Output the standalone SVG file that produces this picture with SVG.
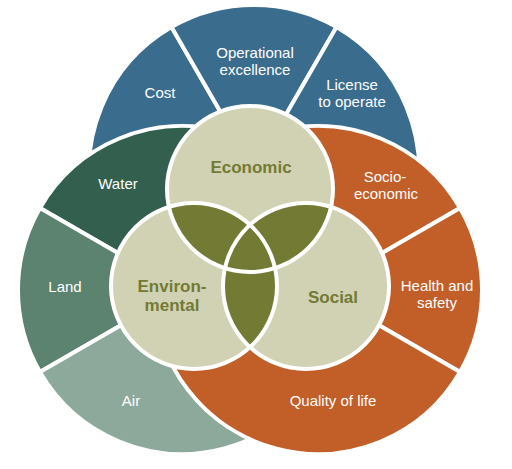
<svg xmlns="http://www.w3.org/2000/svg" width="512" height="469" viewBox="0 0 512 469">
  <style>
    .sec { stroke: #ffffff; stroke-width: 4; stroke-linejoin: round; }
    .blue { fill: #3a6c8e; }
    .water { fill: #33604e; }
    .land { fill: #5c8270; }
    .air { fill: #8ca99b; }
    .orange { fill: #c25e27; }
    .inner { fill: #d0d2b3; }
    .lens { fill: #737a33; }
    .ring { fill: none; stroke: #ffffff; stroke-width: 4; }
    .lbl { font-family: "Liberation Sans", Arial, sans-serif; font-size: 15px; fill: #ffffff; text-anchor: middle; }
    .core { font-family: "Liberation Sans", Arial, sans-serif; font-size: 17px; font-weight: 700; fill: #737a33; text-anchor: middle; }
  </style>
  <defs>
    <clipPath id="clipEco"><circle cx="250" cy="189" r="83"/></clipPath>
    <clipPath id="clipEnv"><circle cx="194" cy="286" r="83"/></clipPath>
  </defs>

  <rect width="512" height="469" fill="#ffffff"/>

  <!-- Economic outer ring (blue) -->
  <g id="cost">
    <path class="sec blue" d="M254,170 L254,335 A165,165 0 0 1 171.5,27.11 Z"/>
    <text class="lbl" x="160" y="98">Cost</text>
  </g>
  <g id="operational-excellence">
    <path class="sec blue" d="M254,170 L171.5,27.11 A165,165 0 0 1 336.5,27.11 Z"/>
    <text class="lbl" x="255" y="57.5">Operational</text>
    <text class="lbl" x="255" y="74.5">excellence</text>
  </g>
  <g id="license-to-operate">
    <path class="sec blue" d="M254,170 L336.5,27.11 A165,165 0 0 1 254,335 Z"/>
    <text class="lbl" x="352" y="90">License</text>
    <text class="lbl" x="352" y="107">to operate</text>
  </g>

  <!-- Environmental outer ring (greens) -->
  <g id="water">
    <path class="sec water" d="M182,290 L39.97,208 A164,164 0 0 1 346,290 Z"/>
    <text class="lbl" x="118" y="189">Water</text>
  </g>
  <g id="land">
    <path class="sec land" d="M182,290 L39.97,372 A164,164 0 0 1 39.97,208 Z"/>
    <text class="lbl" x="65" y="292">Land</text>
  </g>
  <g id="air">
    <path class="sec air" d="M182,290 L346,290 A164,164 0 0 1 39.97,372 Z"/>
    <text class="lbl" x="131" y="406">Air</text>
  </g>

  <!-- Social outer ring (orange) -->
  <g id="socio-economic">
    <path class="sec orange" d="M318,290 L154,290 A164,164 0 0 1 460.03,208 Z"/>
    <text class="lbl" x="385" y="181.5">Socio-</text>
    <text class="lbl" x="386" y="198.5">economic</text>
  </g>
  <g id="health-and-safety">
    <path class="sec orange" d="M318,290 L460.03,208 A164,164 0 0 1 460.03,372 Z"/>
    <text class="lbl" x="437" y="291">Health and</text>
    <text class="lbl" x="437" y="308">safety</text>
  </g>
  <g id="quality-of-life">
    <path class="sec orange" d="M318,290 L460.03,372 A164,164 0 0 1 154,290 Z"/>
    <text class="lbl" x="333" y="406">Quality of life</text>
  </g>

  <!-- Inner Venn circles -->
  <g id="economic">
    <circle class="inner" cx="250" cy="189" r="83"/>
  </g>
  <g id="environmental">
    <circle class="inner" cx="194" cy="286" r="83"/>
  </g>
  <g id="social">
    <circle class="inner" cx="306" cy="286" r="83"/>
  </g>

  <g id="overlaps">
    <circle class="lens" cx="194" cy="286" r="83" clip-path="url(#clipEco)"/>
    <circle class="lens" cx="306" cy="286" r="83" clip-path="url(#clipEco)"/>
    <circle class="lens" cx="306" cy="286" r="83" clip-path="url(#clipEnv)"/>
  </g>

  <g id="outlines">
    <circle class="ring" cx="250" cy="189" r="83"/>
    <circle class="ring" cx="194" cy="286" r="83"/>
    <circle class="ring" cx="306" cy="286" r="83"/>
  </g>

  <g id="core-labels">
    <text class="core" x="251" y="173">Economic</text>
    <text class="core" x="172" y="291.5">Environ-</text>
    <text class="core" x="172" y="310.5">mental</text>
    <text class="core" x="333" y="303">Social</text>
  </g>
</svg>
